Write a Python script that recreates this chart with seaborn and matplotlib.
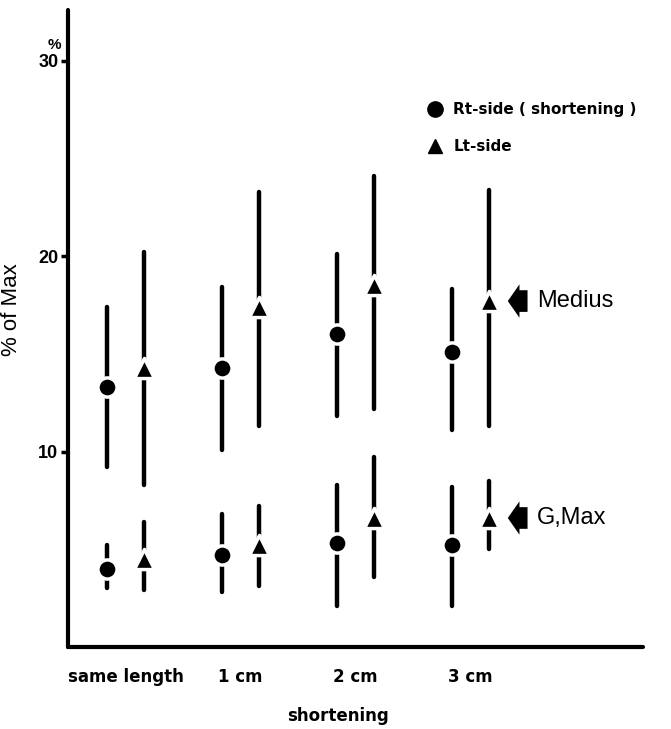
import numpy as np
import pandas as pd
import matplotlib
matplotlib.use("Agg")
import matplotlib.pyplot as plt
import seaborn as sns
from matplotlib.lines import Line2D

# Data (% of Max)
categories = ["same length", "1 cm", "2 cm", "3 cm"]

medius_rt = [13.3, 14.3, 16.0, 15.1]
medius_rt_hi = [17.4, 18.4, 20.1, 18.3]
medius_rt_lo = [9.2, 10.1, 11.8, 11.1]
medius_lt = [14.3, 17.4, 18.5, 17.7]
medius_lt_hi = [20.2, 23.3, 24.1, 23.4]
medius_lt_lo = [8.3, 11.3, 12.2, 11.3]

gmax_rt = [4.0, 4.7, 5.3, 5.2]
gmax_rt_hi = [5.2, 6.8, 8.3, 8.2]
gmax_rt_lo = [3.0, 2.8, 2.1, 2.1]
gmax_lt = [4.5, 5.2, 6.6, 6.6]
gmax_lt_hi = [6.4, 7.2, 9.7, 8.5]
gmax_lt_lo = [2.9, 3.1, 3.6, 5.0]

# long table
rows = []
for muscle, rt, rlo, rhi, lt, llo, lhi in [
    ("Medius", medius_rt, medius_rt_lo, medius_rt_hi, medius_lt, medius_lt_lo, medius_lt_hi),
    ("G,Max", gmax_rt, gmax_rt_lo, gmax_rt_hi, gmax_lt, gmax_lt_lo, gmax_lt_hi),
]:
    for i, cat in enumerate(categories):
        rows.append({"cat": cat, "idx": i, "side": "Rt", "muscle": muscle,
                     "mean": rt[i], "lo": rlo[i], "hi": rhi[i]})
        rows.append({"cat": cat, "idx": i, "side": "Lt", "muscle": muscle,
                     "mean": lt[i], "lo": llo[i], "hi": lhi[i]})
df = pd.DataFrame(rows)
offset = {"Rt": -0.16, "Lt": 0.16}
df["x"] = df["idx"] + df["side"].map(offset)

sns.set_theme(style="white")
plt.rcParams["font.family"] = ["Liberation Sans", "DejaVu Sans"]
plt.rcParams["text.color"] = "black"
plt.rcParams["axes.labelcolor"] = "black"
plt.rcParams["xtick.color"] = "black"
plt.rcParams["ytick.color"] = "black"

fig = plt.figure(figsize=(6.71, 7.29), dpi=100)
ax = fig.add_axes([0.1013, 0.1125, 0.857, 0.874])

# error bars
ax.vlines(df["x"], df["lo"], df["hi"], color="black", lw=3.2, capstyle="round", zorder=2)

# markers with white halo to make the gaps in the bars
sns.scatterplot(data=df[df["side"] == "Rt"], x="x", y="mean", marker="o", s=190,
                color="black", edgecolor="white", linewidth=2.5, ax=ax, zorder=3, legend=False)
sns.scatterplot(data=df[df["side"] == "Lt"], x="x", y="mean", marker="^", s=210,
                color="black", edgecolor="white", linewidth=2.5, ax=ax, zorder=3, legend=False)

ax.set_xlim(-0.5, 4.5)
ax.set_ylim(0, 32.6)

for s in ["top", "right"]:
    ax.spines[s].set_visible(False)
for s in ["left", "bottom"]:
    ax.spines[s].set_linewidth(3)
    ax.spines[s].set_color("black")
    ax.spines[s].set_capstyle("round")

ax.set_yticks([10, 20, 30])
ax.set_yticklabels(["10", "20", "30"], fontsize=13, fontweight="bold",
                   family=["Liberation Sans Narrow", "Liberation Sans"])
ax.tick_params(axis="y", direction="out", length=5, width=2.5, pad=2, left=True)
ax.set_xticks(range(len(categories)))
ax.set_xticklabels(categories, fontsize=12, fontweight="bold", family=["DejaVu Sans"])
ax.tick_params(axis="x", length=0, pad=15)

ax.set_xlabel("shortening", fontsize=12, fontweight="bold", family=["DejaVu Sans"])
ax.xaxis.set_label_coords(0.47, -0.094)
ax.set_ylabel("% of Max", fontsize=16)
ax.yaxis.set_label_coords(-0.08, 0.53)
ax.text(-0.023, 0.945, "%", transform=ax.transAxes, ha="center", va="center",
        fontsize=11, fontweight="bold")

# legend
handles = [
    Line2D([], [], marker="o", color="black", ls="none", markersize=11),
    Line2D([], [], marker="^", color="black", ls="none", markersize=10),
]
ax.legend(handles, ["Rt-side ( shortening )", "Lt-side"], loc="upper left",
          bbox_to_anchor=(0.588, 0.877), frameon=False, handletextpad=0.2,
          labelspacing=1.45, prop={"weight": "bold", "size": 11, "family": "DejaVu Sans"})

# muscle labels with block arrows
for name, yv in [("Medius", medius_lt[-1]), ("G,Max", gmax_lt[-1])]:
    ax.annotate("", xy=(3.3, yv), xytext=(3.52, yv),
                arrowprops=dict(arrowstyle="simple,head_width=2.0,head_length=0.7,tail_width=1.3",
                                color="black", lw=0))
    ax.text(3.58, yv, name, ha="left", va="center", fontsize=17)

fig.savefig("out.png", dpi=100)
